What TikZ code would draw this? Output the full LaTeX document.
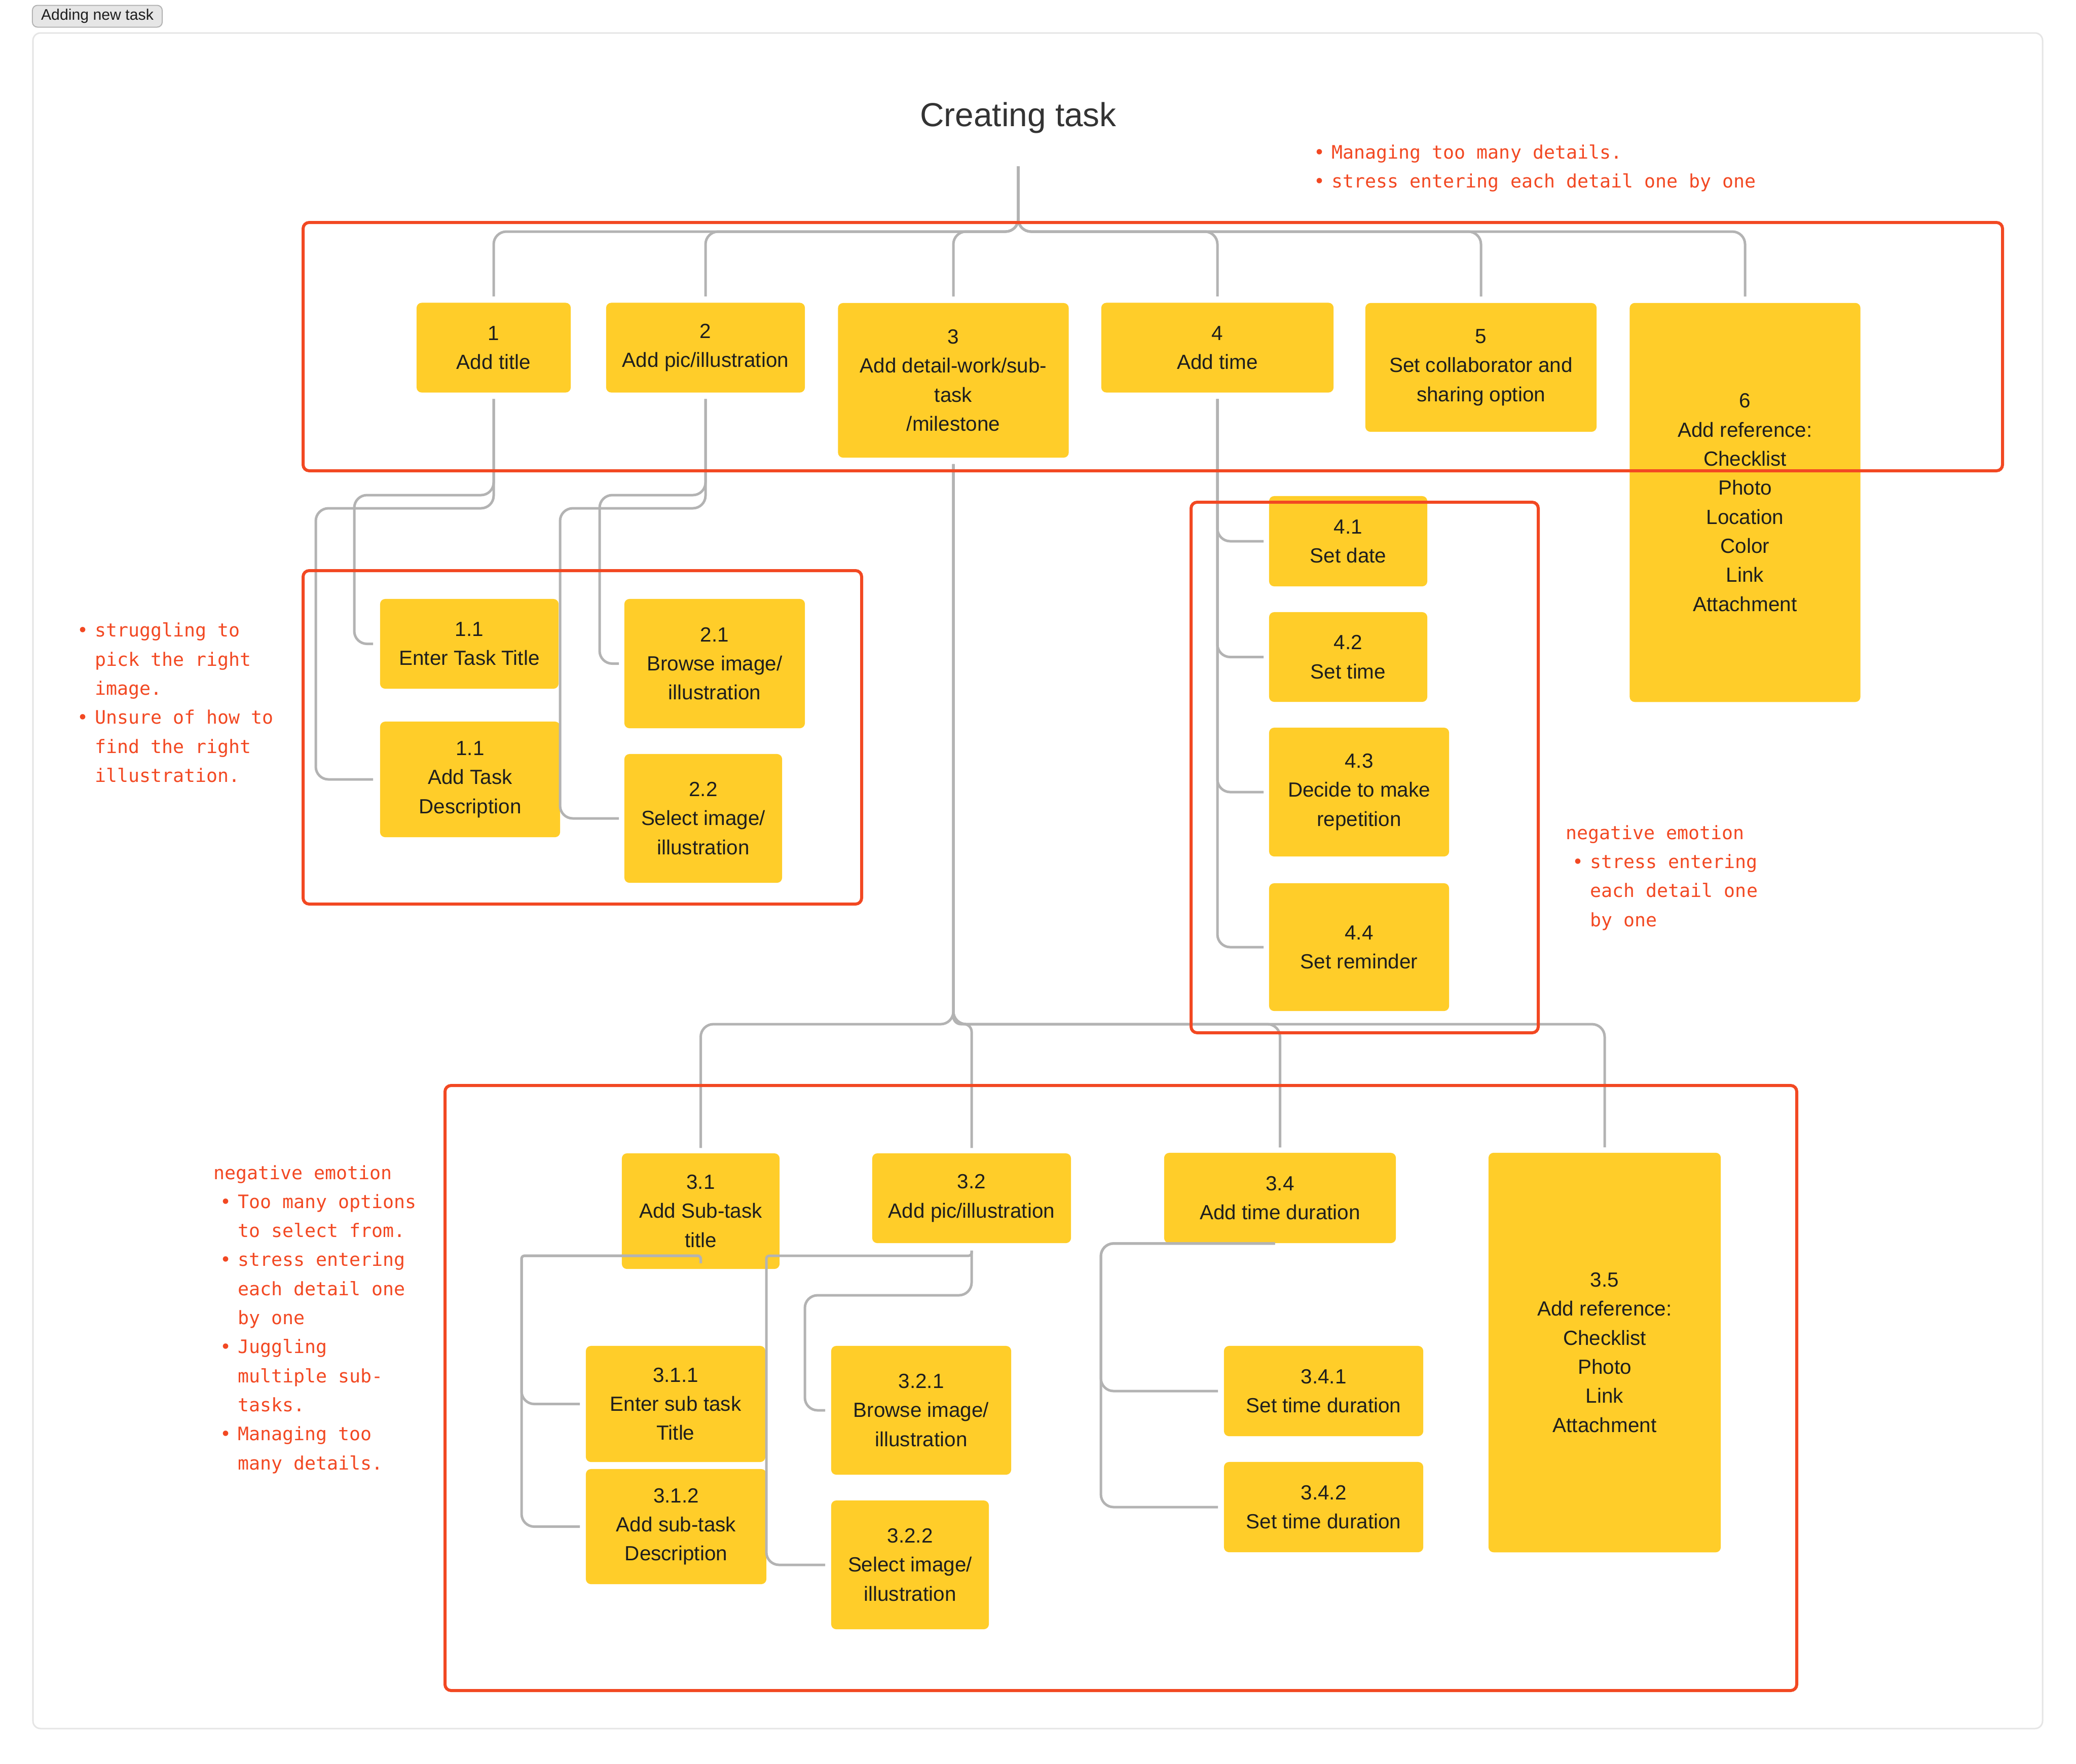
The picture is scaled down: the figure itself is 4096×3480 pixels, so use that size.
\documentclass[tikz,border=0pt]{standalone}
\usepackage{fontspec}
\setmainfont{Liberation Sans}
\newfontfamily\notefont{DejaVu Sans Mono}
\usepackage{xcolor}
\usepackage{tikz}

\definecolor{stickyyellow}{HTML}{FFCD29}
\definecolor{flagred}{HTML}{F24822}
\definecolor{linkgray}{HTML}{B3B3B3}
\definecolor{inkdark}{HTML}{1E1E1E}
\definecolor{titlegray}{HTML}{333333}
\definecolor{framegray}{HTML}{E5E5E5}
\definecolor{tagfill}{HTML}{E6E6E6}

\newcommand{\bul}{\makebox[0.48cm][c]{•}}
\newcommand{\ind}{\hspace*{0.48cm}}

\begin{document}
\begin{tikzpicture}[x=0.01cm, y=-0.01cm]
        \tikzstyle{task} = [fill=stickyyellow, rounded corners=0.1cm, align=center, inner sep=2pt,
                            text=inkdark, font=\fontsize{11.5}{16.3}\selectfont]
        \tikzstyle{conn} = [draw=linkgray, line width=0.05cm, rounded corners=0.25cm]
        \tikzstyle{flag} = [draw=flagred, line width=0.06cm, rounded corners=0.12cm]
        \tikzstyle{note} = [text=flagred, align=left, inner sep=0pt, anchor=west,
                            font=\notefont\fontsize{10.4}{16.3}\selectfont]

        \useasboundingbox (0,0) rectangle (4096,3480);
        \draw[framegray, line width=0.03cm, rounded corners=0.15cm] (65,65) rectangle (4030,3411);
        \node[fill=tagfill, draw=linkgray, line width=0.02cm, rounded corners=0.1cm, inner sep=0pt,
              minimum width=2.56cm, minimum height=0.43cm, text=inkdark,
              font=\fontsize{8.6}{10}\selectfont] (tag) at (192,32) {Adding new task};

        \node[text=titlegray, font=\fontsize{18.7}{22}\selectfont] (title) at (2009,232) {Creating task};

        % first level
        \node[task, minimum width=3.04cm, minimum height=1.77cm] (t1) at (974,686) {1\\Add title};
        \node[task, minimum width=3.92cm, minimum height=1.77cm] (t2) at (1392,686) {2\\Add pic/illustration};
        \node[task, minimum width=4.55cm, minimum height=3.05cm] (t3) at (1881,750.5) {3\\Add detail-work/sub-\\task\\/milestone};
        \node[task, minimum width=4.58cm, minimum height=1.77cm] (t4) at (2402,686) {4\\Add time};
        \node[task, minimum width=4.56cm, minimum height=2.54cm] (t5) at (2922,725) {5\\Set collaborator and\\sharing option};
        \node[task, minimum width=4.55cm, minimum height=7.87cm] (t6) at (3443,991.5) {6\\Add reference:\\Checklist\\Photo\\Location\\Color\\Link\\Attachment};

        % under 1 and 2
        \node[task, minimum width=3.52cm, minimum height=1.77cm] (s11) at (926,1270.5) {1.1\\Enter Task Title};
        \node[task, minimum width=3.55cm, minimum height=2.28cm] (s12) at (927.5,1538) {1.1\\Add Task\\Description};
        \node[task, minimum width=3.56cm, minimum height=2.55cm] (s21) at (1410,1309.5) {2.1\\Browse image/\\illustration};
        \node[task, minimum width=3.11cm, minimum height=2.54cm] (s22) at (1387.5,1615) {2.2\\Select image/\\illustration};

        % under 4
        \node[task, minimum width=3.12cm, minimum height=1.78cm] (s41) at (2660,1068) {4.1\\Set date};
        \node[task, minimum width=3.12cm, minimum height=1.77cm] (s42) at (2660,1296.5) {4.2\\Set time};
        \node[task, minimum width=3.55cm, minimum height=2.54cm] (s43) at (2681.5,1563) {4.3\\Decide to make\\repetition};
        \node[task, minimum width=3.55cm, minimum height=2.52cm] (s44) at (2681.5,1869) {4.4\\Set reminder};

        % under 3
        \node[task, minimum width=3.11cm, minimum height=2.28cm] (m31) at (1382.5,2390) {3.1\\Add Sub-task\\title};
        \node[task, minimum width=3.92cm, minimum height=1.77cm] (m32) at (1917,2364.5) {3.2\\Add pic/illustration};
        \node[task, minimum width=4.57cm, minimum height=1.78cm] (m34) at (2525.5,2364) {3.4\\Add time duration};
        \node[task, minimum width=4.58cm, minimum height=7.88cm] (m35) at (3166,2669) {3.5\\Add reference:\\Checklist\\Photo\\Link\\Attachment};
        \node[task, minimum width=3.54cm, minimum height=2.29cm] (m311) at (1333,2770.5) {3.1.1\\Enter sub task\\Title};
        \node[task, minimum width=3.56cm, minimum height=2.27cm] (m312) at (1334,3012.5) {3.1.2\\Add sub-task\\Description};
        \node[task, minimum width=3.55cm, minimum height=2.54cm] (m321) at (1817.5,2783) {3.2.1\\Browse image/\\illustration};
        \node[task, minimum width=3.11cm, minimum height=2.54cm] (m322) at (1795.5,3088) {3.2.2\\Select image/\\illustration};
        \node[task, minimum width=3.93cm, minimum height=1.78cm] (m341) at (2611.5,2745) {3.4.1\\Set time duration};
        \node[task, minimum width=3.93cm, minimum height=1.78cm] (m342) at (2611.5,2974) {3.4.2\\Set time duration};

        % connectors
        \coordinate (root) at (2009,328);
        \coordinate (bus) at (2009,457);
        \foreach \kid in {t1,t2,t3,t4,t5,t6}
            \draw[conn] (root) |- (bus -| \kid) -- ([yshift=0.12cm]\kid.north);

        \draw[conn] ([yshift=-0.12cm]t1.south) |- (699,977) |- ([xshift=-0.13cm]s11.west);
        \draw[conn] ([yshift=-0.12cm]t1.south) |- (623,1003) |- ([xshift=-0.13cm]s12.west);
        \draw[conn] ([yshift=-0.12cm]t2.south) |- (1183,977) |- ([xshift=-0.1cm]s21.west);
        \draw[conn] ([yshift=-0.12cm]t2.south) |- (1105,1003) |- ([xshift=-0.1cm]s22.west);

        \foreach \kid in {s41,s42,s43,s44}
            \draw[conn] ([yshift=-0.12cm]t4.south) |- ([xshift=-0.1cm]\kid.west);

        \coordinate (bus3) at (1881,2021);
        \foreach \kid in {m31,m34,m35}
            \draw[conn] ([yshift=-0.12cm]t3.south) |- (bus3 -| \kid) -- ([yshift=0.1cm]\kid.north);
        \draw[conn, rounded corners=0.15cm] ([yshift=-0.12cm]t3.south) |- (bus3 -| m32) -- ([yshift=0.1cm]m32.north);

        \foreach \kid in {m311,m312}
            \draw[conn] ([yshift=0.12cm]m31.south) [rounded corners=0.06cm] |- (1029,2478)
                [rounded corners=0.25cm] |- ([xshift=-0.11cm]\kid.west);
        \draw[conn] ([yshift=-0.14cm]m32.south) |- (1588,2556) |- ([xshift=-0.11cm]m321.west);
        \draw[conn] ([yshift=-0.14cm]m32.south) [rounded corners=0.06cm] |- (1512,2478)
            [rounded corners=0.25cm] |- ([xshift=-0.11cm]m322.west);
        \foreach \kid in {m341,m342}
            \draw[conn] ([xshift=-0.1cm]m34.south) -| ([xshift=-2.42cm]\kid.west) -- ([xshift=-0.11cm]\kid.west);

        % red groups
        \draw[flag] (598,439) rectangle (3951,929);
        \draw[flag] (598,1126) rectangle (1700,1784);
        \draw[flag] (2350,991) rectangle (3035,2038);
        \draw[flag] (878,2142) rectangle (3545,3336);

        % notes
        \node[note] (notetop) at (2579,332) {\bul Managing too many details.\\\bul stress entering each detail one by one};
        \node[note] (noteleft) at (139,1386.5) {\bul struggling to\\\ind pick the right\\\ind image.\\\bul Unsure of how to\\\ind find the right\\\ind illustration.};
        \node[note] (noteright) at (3089,1732) {negative emotion\\\bul stress entering\\\ind each detail one\\\ind by one};
        \node[note] (notebottom) at (421,2603.5) {negative emotion\\\bul Too many options\\\ind to select from.\\\bul stress entering\\\ind each detail one\\\ind by one\\\bul Juggling\\\ind multiple sub-\\\ind tasks.\\\bul Managing too\\\ind many details.};
    \end{tikzpicture}
\end{document}
